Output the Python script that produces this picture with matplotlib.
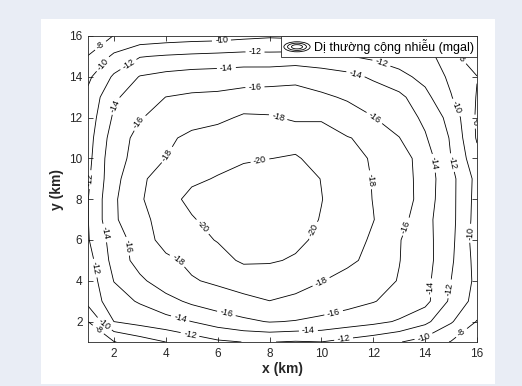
import matplotlib
matplotlib.use("Agg")
import numpy as np
import matplotlib.pyplot as plt
from matplotlib.patches import Rectangle, Ellipse
from matplotlib.lines import Line2D
from matplotlib.legend_handler import HandlerBase

plt.rcParams['font.family'] = ['Liberation Sans', 'DejaVu Sans']
plt.rcParams['contour.negative_linestyle'] = 'solid'

# grid nodes (km)
x_km = [1, 2, 3, 4, 5, 6, 7, 8, 9, 10, 11, 12, 13, 14, 15, 16]
y_km = [1, 2, 3, 4, 5, 6, 7, 8, 9, 10, 11, 12, 13, 14, 15, 16]

# gravity anomaly + noise (mgal), one list per y row, bottom to top
anomaly = [
    [-6.8, -7.9, -9.0, -10.0, -10.9, -11.68, -12.03, -12.05, -11.85, -11.98, -11.4, -10.8, -10.1, -9.2, -7.9, -6.8],
    [-8.0, -12.0, -12.7, -13.3, -14.0, -14.9, -15.6, -16.1, -15.9, -15.5, -15.0, -14.5, -13.8, -12.5, -10.2, -7.9],
    [-10.6, -13.2, -14.2, -15.3, -16.4, -17.1, -17.6, -17.98, -17.6, -17.2, -16.7, -16.1, -15.3, -14.6, -11.6, -9.2],
    [-10.8, -14.05, -15.6, -17.1, -17.85, -18.3, -18.7, -18.9, -18.7, -18.05, -17.5, -16.8, -15.9, -14.6, -12.0, -9.5],
    [-11.2, -14.7, -16.8, -17.6, -18.4, -19.3, -20.3, -20.2, -19.8, -19.2, -18.3, -17.6, -16.05, -14.8, -12.3, -9.3],
    [-11.85, -14.9, -17.0, -18.7, -19.4, -20.1, -20.8, -20.9, -20.4, -19.6, -18.9, -17.7, -16.1, -14.7, -12.5, -9.0],
    [-11.95, -15.7, -17.5, -18.7, -19.8, -20.9, -21.3, -21.2, -20.8, -19.9, -19.0, -18.05, -16.8, -14.6, -12.6, -9.2],
    [-11.95, -15.7, -17.8, -19.1, -20.6, -21.1, -21.5, -21.4, -21.0, -20.05, -19.0, -17.95, -17.4, -14.9, -12.6, -9.3],
    [-11.7, -15.4, -17.6, -19.0, -19.6, -20.15, -20.9, -21.2, -20.9, -19.95, -19.0, -17.9, -17.2, -15.0, -12.6, -9.4],
    [-11.4, -15.4, -16.6, -18.02, -18.8, -19.3, -19.7, -19.97, -20.2, -19.3, -18.7, -17.8, -17.0, -15.0, -12.0, -8.6],
    [-11.2, -15.0, -16.6, -17.5, -18.6, -19.0, -19.3, -19.4, -19.2, -18.8, -18.1, -17.5, -16.05, -14.2, -11.8, -7.8],
    [-10.9, -14.3, -15.9, -16.6, -17.0, -17.5, -18.3, -18.2, -17.7, -17.8, -16.8, -16.05, -15.1, -13.6, -11.3, -7.7],
    [-10.5, -13.7, -15.0, -16.02, -16.3, -16.4, -16.7, -16.75, -16.6, -16.3, -15.8, -15.2, -14.5, -12.6, -10.1, -7.9],
    [-9.6, -12.3, -14.1, -14.6, -14.9, -15.0, -15.2, -15.3, -15.6, -15.1, -14.6, -13.7, -12.6, -11.4, -9.6, -8.05],
    [-8.05, -10.4, -11.9, -12.2, -12.4, -12.55, -12.7, -12.6, -12.7, -12.5, -12.1, -11.6, -11.0, -10.9, -8.6, -6.8],
    [-6.9, -8.05, -8.6, -8.9, -9.1, -9.2, -9.5, -9.75, -9.6, -9.3, -9.0, -8.6, -8.0, -7.4, -6.7, -6.0],
]

levels = [-20, -18, -16, -14, -12, -10, -8]
ticks = [2, 4, 6, 8, 10, 12, 14, 16]

# where the inline labels sit (x, y in km)
label_spots = [
    (1.45, 15.58), (15.4, 14.9), (15.87, 11.8), (1.39, 1.6), (15.36, 1.52),
    (6.15, 15.7), (1.52, 14.68), (15.16, 12.47), (15.61, 6.34), (1.71, 2.01), (13.94, 1.28),
    (7.44, 15.2), (2.48, 14.76), (12.27, 14.51), (1.06, 8.96), (1.32, 4.63),
    (14.97, 9.77), (15.1, 3.57), (4.93, 1.36), (10.85, 1.2),
    (6.34, 14.35), (11.3, 14.06), (1.97, 12.63), (14.39, 9.77), (1.64, 6.34),
    (14.26, 3.65), (4.54, 2.09), (9.5, 1.52),
    (7.44, 13.4), (11.94, 11.82), (3.0, 11.74), (13.23, 6.67), (2.48, 5.69),
    (6.34, 2.42), (10.46, 2.5),
    (8.34, 12.06), (4.15, 10.1), (12.0, 8.96), (4.48, 5.04), (10.01, 3.89),
    (7.63, 9.9), (5.44, 6.67), (9.63, 6.51),
]


class ContourIcon(HandlerBase):
    # concentric rings as the legend key
    def create_artists(self, legend, orig_handle, xdescent, ydescent,
                       width, height, fontsize, trans):
        cx = width / 2 - xdescent
        cy = height / 2 - ydescent
        rings = []
        for s in (1.0, 0.72, 0.42):
            rings.append(Ellipse((cx, cy), width * s, height * 1.05 * s,
                                 fill=False, ec='k', lw=0.6, transform=trans))
        return rings


W, H = 522, 386
fig = plt.figure(figsize=(W / 100, H / 100), dpi=100, facecolor='#e9edf5')
panel = Rectangle((41 / W, 2 / H), (495 - 41) / W, (367 - 2) / H,
                  transform=fig.transFigure, facecolor='white',
                  edgecolor='none', zorder=-10)
fig.add_artist(panel)

ax = fig.add_axes([88 / W, 44 / H, 389 / W, 306 / H])
ax.set_zorder(1)
X, Y = np.meshgrid(x_km, y_km)
Z = np.array(anomaly)

cs = ax.contour(X, Y, Z, levels=levels, colors='k', linewidths=0.6,
                linestyles='solid')
ax.clabel(cs, manual=label_spots, inline=True, fmt='%d', fontsize=6.5,
          inline_spacing=3)

ax.set_xlim(1, 16)
ax.set_ylim(1, 16)
ax.set_xticks(ticks)
ax.set_yticks(ticks)
ax.tick_params(direction='in', top=True, right=True, length=3.5, width=0.6,
               labelsize=8.5, colors='#262626', pad=4)
for sp in ax.spines.values():
    sp.set_linewidth(0.6)
    sp.set_color('#262626')

ax.set_xlabel('x (km)', fontsize=10, fontweight='bold', color='#262626', labelpad=2)
ax.set_ylabel('y (km)', fontsize=10, fontweight='bold', color='#262626', labelpad=4)

key = Line2D([], [], color='k')
leg = ax.legend([key], ['Dị thường cộng nhiễu (mgal)'], loc='upper right',
                handler_map={key: ContourIcon()}, fontsize=9,
                borderaxespad=0, fancybox=False, framealpha=1,
                handlelength=2.1, handleheight=0.8, handletextpad=0.3,
                borderpad=0.25)
leg.get_frame().set_edgecolor('#262626')
leg.get_frame().set_linewidth(0.6)

fig.savefig('out.png', dpi=100, facecolor=fig.get_facecolor())
